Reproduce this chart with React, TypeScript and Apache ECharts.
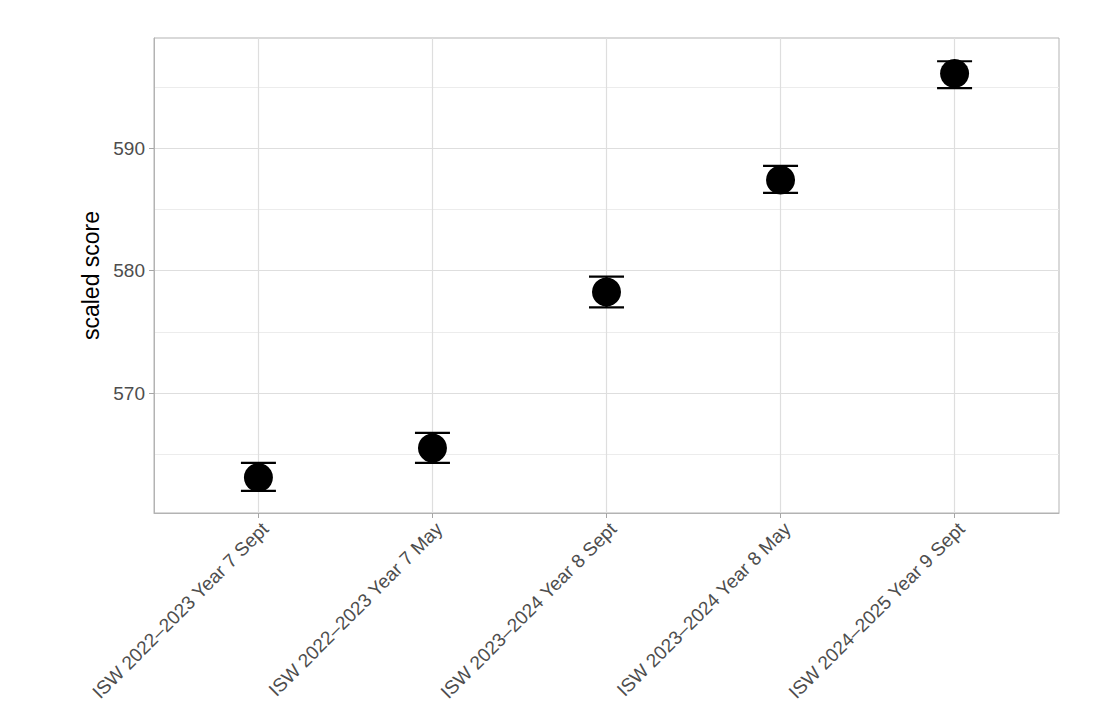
import React, { useEffect, useRef } from "react";
import * as echarts from "echarts";

const categories = [
  "ISW 2022–2023 Year 7 Sept",
  "ISW 2022–2023 Year 7 May",
  "ISW 2023–2024 Year 8 Sept",
  "ISW 2023–2024 Year 8 May",
  "ISW 2024–2025 Year 9 Sept",
];
const means = [563.1, 565.5, 578.25, 587.4, 596.1];
const lower = [562.0, 564.3, 577.0, 586.35, 594.9];
const upper = [564.3, 566.75, 579.5, 588.55, 597.1];
const majorTicks = [570, 580, 590];
const minorTicks = [565, 575, 585, 595];
const yMin = 560.2;
const yMax = 599.0;

const FONT = "'Liberation Sans', Arial, Helvetica, sans-serif";

export default function App() {
  const ref = useRef<HTMLDivElement>(null);
  useEffect(() => {
    if (!ref.current) return;
    const chart = echarts.init(ref.current, null, { renderer: "svg" });
    const idx = categories.map((_, i) => i);
    const option: any = {
      animation: false,
      backgroundColor: "#ffffff",
      grid: {
        left: 154,
        right: 41,
        top: 38,
        bottom: 207,
        show: true,
        borderColor: "#b3b3b3",
        borderWidth: 1,
        backgroundColor: "transparent",
      },
      xAxis: {
        type: "value",
        min: -0.6,
        max: 4.6,
        axisLine: { show: true, onZero: false, lineStyle: { color: "#b3b3b3", width: 1 } },
        axisTick: {
          show: true,
          customValues: idx,
          length: 5,
          lineStyle: { color: "#a6a6a6", width: 1 },
        },
        axisLabel: {
          customValues: idx,
          formatter: (v: number) => categories[Math.round(v)] ?? "",
          rotate: 45,
          align: "right",
          verticalAlign: "top",
          margin: 6,
          color: "#4d4d4d",
          fontSize: 19,
          fontFamily: FONT,
        },
        splitLine: { show: true, lineStyle: { color: "#dedede", width: 1.2 } },
      },
      yAxis: [
        {
          type: "value",
          min: yMin,
          max: yMax,
          name: "scaled score",
          nameLocation: "middle",
          nameGap: 50,
          nameTextStyle: { fontSize: 23, color: "#000000", fontFamily: FONT },
          axisLine: { show: true, onZero: false, lineStyle: { color: "#b3b3b3", width: 1 } },
          axisTick: {
            show: true,
            customValues: majorTicks,
            length: 5,
            lineStyle: { color: "#a6a6a6", width: 1 },
          },
          axisLabel: {
            customValues: majorTicks,
            color: "#4d4d4d",
            fontSize: 19,
            fontFamily: FONT,
            margin: 9,
          },
          splitLine: { show: true, lineStyle: { color: "#dedede", width: 1.2 } },
        },
        {
          type: "value",
          min: yMin,
          max: yMax,
          position: "right",
          axisLine: { show: false, onZero: false },
          axisTick: { show: false, customValues: minorTicks },
          axisLabel: { show: false, customValues: minorTicks },
          splitLine: { show: true, lineStyle: { color: "#ececec", width: 1 } },
        },
      ],
      series: [
        {
          type: "custom",
          name: "errorbar",
          yAxisIndex: 0,
          data: idx.map((i) => [i, lower[i], upper[i]]),
          renderItem: (params: any, api: any) => {
            const x = api.value(0);
            const lo = api.coord([x, api.value(1)]);
            const hi = api.coord([x, api.value(2)]);
            const hw = 17.5;
            const style = { stroke: "#000000", lineWidth: 2.2 };
            return {
              type: "group",
              children: [
                { type: "line", shape: { x1: lo[0], y1: lo[1], x2: hi[0], y2: hi[1] }, style },
                { type: "line", shape: { x1: lo[0] - hw, y1: lo[1], x2: lo[0] + hw, y2: lo[1] }, style },
                { type: "line", shape: { x1: hi[0] - hw, y1: hi[1], x2: hi[0] + hw, y2: hi[1] }, style },
              ],
            };
          },
          z: 2,
        },
        {
          type: "scatter",
          name: "mean",
          yAxisIndex: 0,
          symbol: "circle",
          symbolSize: 29,
          itemStyle: { color: "#000000", opacity: 1 },
          data: idx.map((i) => [i, means[i]]),
          z: 3,
        },
      ],
    };
    chart.setOption(option);
    return () => chart.dispose();
  }, []);
  return (
    <div
      ref={ref}
      style={{ position: "absolute", left: 0, top: 0, width: 1100, height: 720 }}
    />
  );
}
